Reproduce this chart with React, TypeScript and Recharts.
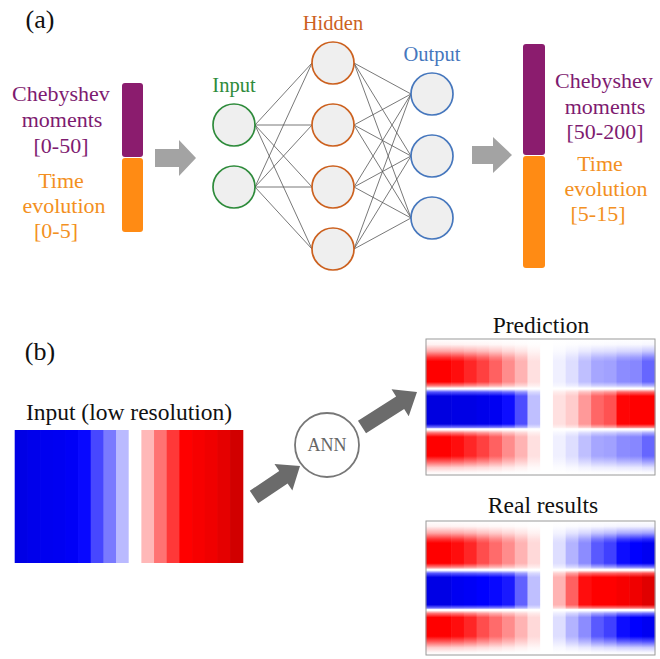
import React from 'react';
import {
  ComposedChart,
  XAxis,
  YAxis,
  Scatter,
  ReferenceArea,
  ReferenceLine,
  ReferenceDot,
} from 'recharts';

const FONT = '"Liberation Serif", "Times New Roman", Times, serif';

// ---------------- data ----------------
const panelTags = ['(a)', '(b)'];
const inputVectorLines = ['Chebyshev', 'moments', '[0-50]', 'Time', 'evolution', '[0-5]'];
const outputVectorLines = ['Chebyshev', 'moments', '[50-200]', 'Time', 'evolution', '[5-15]'];
const layerNames = ['Input', 'Hidden', 'Output'];
const layerSlots = [[1, 2], [0, 1, 2, 3], [0.5, 1.5, 2.5]];
const heatmapTitles = ['Input (low resolution)', 'Prediction', 'Real results'];
const centerLabel = 'ANN';

// column values of the coarse input field
const inputColumns = [-1.1, -1.08, -1.06, -1.05, -1.03, -0.97, -0.72, -0.52, -0.27, 0, 0.28, 0.55, 0.78, 1.0, 1.03, 1.06, 1.1, 1.18];
// amplitudes of the outer (top/bottom) band and the middle band, per column
const predictedOuter = [1.0, 1.0, 0.95, 0.85, 0.75, 0.62, 0.45, 0.3, 0.12, 0, -0.06, -0.13, -0.25, -0.35, -0.37, -0.45, -0.47, -0.6];
const predictedMiddle = [-1.12, -1.12, -1.1, -1.1, -1.08, -1.05, -0.95, -0.7, -0.25, 0, 0.12, 0.2, 0.4, 0.6, 0.68, 0.98, 1.0, 1.0];
const realOuter = [1.0, 1.0, 0.95, 0.85, 0.7, 0.58, 0.45, 0.3, 0.15, 0, -0.13, -0.3, -0.45, -0.65, -0.75, -0.95, -1.0, -1.05];
const realMiddle = [-1.1, -1.1, -1.05, -1.03, -1.0, -0.97, -0.9, -0.62, -0.25, 0, 0.3, 0.62, 0.95, 1.0, 1.0, 1.03, 1.06, 1.12];

// vertical profile of the three bands: [offset, band, weight]
const bandProfile: [number, 'o' | 'm', number][] = [
  [0, 'o', 0], [0.04, 'o', 0.05], [0.09, 'o', 0.35], [0.135, 'o', 0.8], [0.165, 'o', 1],
  [0.315, 'o', 1], [0.345, 'o', 0.5], [0.362, 'o', 0],
  [0.368, 'm', 0], [0.39, 'm', 0.6], [0.42, 'm', 1], [0.625, 'm', 1], [0.65, 'm', 0.5], [0.66, 'm', 0],
  [0.668, 'o', 0], [0.69, 'o', 0.55], [0.72, 'o', 1], [0.86, 'o', 1], [0.9, 'o', 0.65],
  [0.945, 'o', 0.2], [0.98, 'o', 0.03], [1, 'o', 0],
];

const frameTicksX = [1, 2, 3, 4, 5, 6, 7, 8, 9, 10, 11, 12, 13, 14, 15, 16, 17];
const frameTicksY = [0.055, 0.165, 0.27, 0.375, 0.48, 0.585, 0.69, 0.8, 0.905];

// ---------------- layout & style ----------------
const PURPLE = '#8b1c6e';
const PURPLE_TEXT = '#7e1b70';
const ORANGE = '#ff8b14';
const ORANGE_TEXT = '#f39022';
const layerColors = ['#2e8b3b', '#cc611f', '#4677bd'];
const NODE_FILL = '#efefef';

const tagPos = [[40, 19], [40, 351]];
const inputTextPos = { xs: [61, 62, 61, 61, 64, 56], ys: [93, 119, 145, 180, 205, 230] };
const outputTextPos = { xs: [604, 605, 605, 600, 606, 598], ys: [80, 106, 131, 163, 188, 213] };
const vectorBars = [
  { x1: 122, x2: 143, top: 83, split: 157.5, bottom: 232 },
  { x1: 523, x2: 545, top: 44, split: 155.5, bottom: 268 },
];
const layerX = [234, 333, 432];
const SLOT_Y0 = 63;
const SLOT_STEP = 62;
const NODE_R = 21;
const titlePos = [[129, 412], [541, 325], [543, 505]];
const annPos = { x: 327, y: 445, r: 32 };

const arrows = [
  { from: [155, 158], to: [196, 158], shaft: 18, head: 36, headLen: 17, color: '#a3a3a3' },
  { from: [472, 155], to: [512, 155], shaft: 18, head: 36, headLen: 19, color: '#a3a3a3' },
  { from: [254, 497], to: [300, 466], shaft: 15, head: 32, headLen: 20, color: '#6b6b6b' },
  { from: [362, 427], to: [417, 392], shaft: 15, head: 32, headLen: 20, color: '#6b6b6b' },
];

const heatBoxes = [
  { x: 15, y: 430, w: 228, h: 133 },
  { x: 426, y: 339, w: 229, h: 136 },
  { x: 426, y: 521, w: 229, h: 134 },
];

// diverging blue-white-red map, darkening past |v| = 1
function cmap(v: number): string {
  const a = Math.min(Math.abs(v), 1.5);
  let strong: number;
  let weak: number;
  if (a <= 1) {
    strong = 255;
    weak = Math.round(255 * (1 - a));
  } else {
    strong = Math.round(255 * (1 - (a - 1)));
    weak = 0;
  }
  return v >= 0 ? `rgb(${strong},${weak},${weak})` : `rgb(${weak},${weak},${strong})`;
}

const textMark = (key: string, text: string, x: number, y: number, color: string, size: number) => (
  <ReferenceDot
    key={key}
    x={x}
    y={y}
    r={0}
    ifOverflow="visible"
    shape={(p: any) => (
      <text x={p.cx} y={p.cy} dy="0.35em" textAnchor="middle" fill={color} fontSize={size} fontFamily={FONT}>
        {text}
      </text>
    )}
  />
);

const arrowShape = (a: (typeof arrows)[number]) => (p: any) => {
  const diagonal = a.from[1] !== a.to[1];
  const tail = diagonal ? [p.x, p.y + p.height] : [p.x, p.y + p.height / 2];
  const tip = diagonal ? [p.x + p.width, p.y] : [p.x + p.width, p.y + p.height / 2];
  const dx = tip[0] - tail[0];
  const dy = tip[1] - tail[1];
  const len = Math.hypot(dx, dy);
  const ux = dx / len;
  const uy = dy / len;
  const nx = -uy;
  const ny = ux;
  const neck = [tip[0] - ux * a.headLen, tip[1] - uy * a.headLen];
  const pt = (b: number[], s: number) => `${b[0] + nx * s},${b[1] + ny * s}`;
  const points = [
    pt(tail, a.shaft / 2),
    pt(neck, a.shaft / 2),
    pt(neck, a.head / 2),
    `${tip[0]},${tip[1]}`,
    pt(neck, -a.head / 2),
    pt(neck, -a.shaft / 2),
    pt(tail, -a.shaft / 2),
  ].join(' ');
  return <polygon points={points} fill={a.color} />;
};

const roundedBar = (color: string) => (p: any) => (
  <rect x={p.x} y={p.y} width={p.width} height={p.height} rx={3} ry={3} fill={color} />
);

// column anchors so the chart has a series to lay its axes out from
const columnAnchors = (values: number[]) => values.map((v, i) => ({ col: i + 0.5, row: 0.5, v }));

function DiagramCanvas() {
  const nodeData = layerSlots.map((slots, l) =>
    slots.map((s) => ({ x: layerX[l], y: SLOT_Y0 + SLOT_STEP * s })),
  );
  const edges: { x1: number; y1: number; x2: number; y2: number }[] = [];
  for (let l = 0; l < layerSlots.length - 1; l++) {
    for (const a of nodeData[l]) {
      for (const b of nodeData[l + 1]) {
        edges.push({ x1: a.x + NODE_R, y1: a.y, x2: b.x - NODE_R, y2: b.y });
      }
    }
  }
  return (
    <ComposedChart width={660} height={659} margin={{ top: 0, right: 0, bottom: 0, left: 0 }}>
      <XAxis type="number" dataKey="x" domain={[0, 660]} allowDataOverflow hide />
      <YAxis type="number" dataKey="y" domain={[0, 659]} reversed allowDataOverflow hide />

      {panelTags.map((t, i) => textMark(`tag${i}`, t, tagPos[i][0], tagPos[i][1], '#111', 26))}

      {/* feature vectors */}
      {vectorBars.map((b, i) => (
        <ReferenceArea key={`vp${i}`} x1={b.x1} x2={b.x2} y1={b.top} y2={b.split - 0.5} ifOverflow="visible" shape={roundedBar(PURPLE)} />
      ))}
      {vectorBars.map((b, i) => (
        <ReferenceArea key={`vo${i}`} x1={b.x1} x2={b.x2} y1={b.split + 0.5} y2={b.bottom} ifOverflow="visible" shape={roundedBar(ORANGE)} />
      ))}
      {inputVectorLines.map((t, i) =>
        textMark(`in${i}`, t, inputTextPos.xs[i], inputTextPos.ys[i], i < 3 ? PURPLE_TEXT : ORANGE_TEXT, 22),
      )}
      {outputVectorLines.map((t, i) =>
        textMark(`out${i}`, t, outputTextPos.xs[i], outputTextPos.ys[i], i < 3 ? PURPLE_TEXT : ORANGE_TEXT, 22),
      )}

      {/* arrows */}
      {arrows.map((a, i) => {
        const diagonal = a.from[1] !== a.to[1];
        return (
          <ReferenceArea
            key={`ar${i}`}
            x1={Math.min(a.from[0], a.to[0])}
            x2={Math.max(a.from[0], a.to[0])}
            y1={diagonal ? Math.min(a.from[1], a.to[1]) : a.from[1] - 1}
            y2={diagonal ? Math.max(a.from[1], a.to[1]) : a.from[1] + 1}
            ifOverflow="visible"
            shape={arrowShape(a)}
          />
        );
      })}

      {/* network edges */}
      {edges.map((e, i) => (
        <ReferenceLine
          key={`e${i}`}
          segment={[{ x: e.x1, y: e.y1 }, { x: e.x2, y: e.y2 }]}
          stroke="#555"
          strokeWidth={0.8}
          ifOverflow="visible"
        />
      ))}

      {/* network nodes */}
      {nodeData.map((d, l) => (
        <Scatter
          key={`layer${l}`}
          name={layerNames[l]}
          data={d}
          isAnimationActive={false}
          shape={(p: any) => (
            <circle cx={p.cx} cy={p.cy} r={NODE_R} fill={NODE_FILL} stroke={layerColors[l]} strokeWidth={1.7} />
          )}
        />
      ))}
      {layerNames.map((n, l) =>
        textMark(`ln${l}`, n, layerX[l], SLOT_Y0 + SLOT_STEP * layerSlots[l][0] - NODE_R - 19, layerColors[l], 20.5),
      )}

      {/* panel (b) */}
      {heatmapTitles.map((t, i) => textMark(`ht${i}`, t, titlePos[i][0], titlePos[i][1], '#111', 23.5))}
      <ReferenceDot x={annPos.x} y={annPos.y} r={annPos.r} fill="#fff" stroke="#777" strokeWidth={1.8} ifOverflow="visible" />
      {textMark('ann', centerLabel, annPos.x, annPos.y, '#666', 18)}
    </ComposedChart>
  );
}

function InputHeatmap() {
  const b = heatBoxes[0];
  return (
    <div style={{ position: 'absolute', left: b.x, top: b.y }}>
      <ComposedChart width={b.w} height={b.h} margin={{ top: 0, right: 0, bottom: 0, left: 0 }}>
        <XAxis type="number" dataKey="col" domain={[0, inputColumns.length]} allowDataOverflow hide />
        <YAxis type="number" dataKey="row" domain={[0, 1]} reversed allowDataOverflow hide />
        {inputColumns.map((v, i) => (
          <ReferenceArea
            key={i}
            x1={i}
            x2={i + 1}
            y1={0}
            y2={1}
            ifOverflow="visible"
            shape={(p: any) => <rect x={p.x - 0.3} y={p.y} width={p.width + 0.6} height={p.height} fill={cmap(v)} />}
          />
        ))}
        <Scatter data={columnAnchors(inputColumns)} isAnimationActive={false} shape={() => <g />} />
      </ComposedChart>
    </div>
  );
}

function BandHeatmap({ id, box, outer, middle }: { id: string; box: (typeof heatBoxes)[number]; outer: number[]; middle: number[] }) {
  return (
    <div style={{ position: 'absolute', left: box.x, top: box.y }}>
      <ComposedChart width={box.w} height={box.h} margin={{ top: 0, right: 0, bottom: 0, left: 0 }}>
        <defs>
          {outer.map((_, i) => (
            <linearGradient key={i} id={`${id}-${i}`} x1="0" y1="0" x2="0" y2="1">
              {bandProfile.map(([o, band, w], k) => (
                <stop key={k} offset={o} stopColor={cmap((band === 'm' ? middle : outer)[i] * w)} />
              ))}
            </linearGradient>
          ))}
        </defs>
        <XAxis type="number" dataKey="col" domain={[0, outer.length]} allowDataOverflow height={0} ticks={frameTicksX} tick={false} tickSize={3} mirror axisLine={false} stroke="#999" />
        <YAxis type="number" dataKey="row" domain={[0, 1]} reversed allowDataOverflow width={0} ticks={frameTicksY} tick={false} tickSize={3} mirror axisLine={false} stroke="#999" />
        {outer.map((_, i) => (
          <ReferenceArea
            key={i}
            x1={i}
            x2={i + 1}
            y1={0}
            y2={1}
            ifOverflow="visible"
            shape={(p: any) => <rect x={p.x - 0.3} y={p.y} width={p.width + 0.6} height={p.height} fill={`url(#${id}-${i})`} />}
          />
        ))}
        <ReferenceArea
          x1={0}
          x2={outer.length}
          y1={0}
          y2={1}
          ifOverflow="visible"
          shape={(p: any) => <rect x={p.x} y={p.y} width={p.width} height={p.height} fill="none" stroke="#9a9a9a" strokeWidth={1} />}
        />
        <Scatter data={columnAnchors(outer)} isAnimationActive={false} shape={() => <g />} />
      </ComposedChart>
    </div>
  );
}

export default function App() {
  return (
    <div style={{ position: 'relative', width: 660, height: 659, background: '#fff', overflow: 'hidden', fontFamily: FONT }}>
      <style>{'body{margin:0}.recharts-surface{overflow:visible}'}</style>
      <DiagramCanvas />
      <InputHeatmap />
      <BandHeatmap id="pred" box={heatBoxes[1]} outer={predictedOuter} middle={predictedMiddle} />
      <BandHeatmap id="real" box={heatBoxes[2]} outer={realOuter} middle={realMiddle} />
    </div>
  );
}
